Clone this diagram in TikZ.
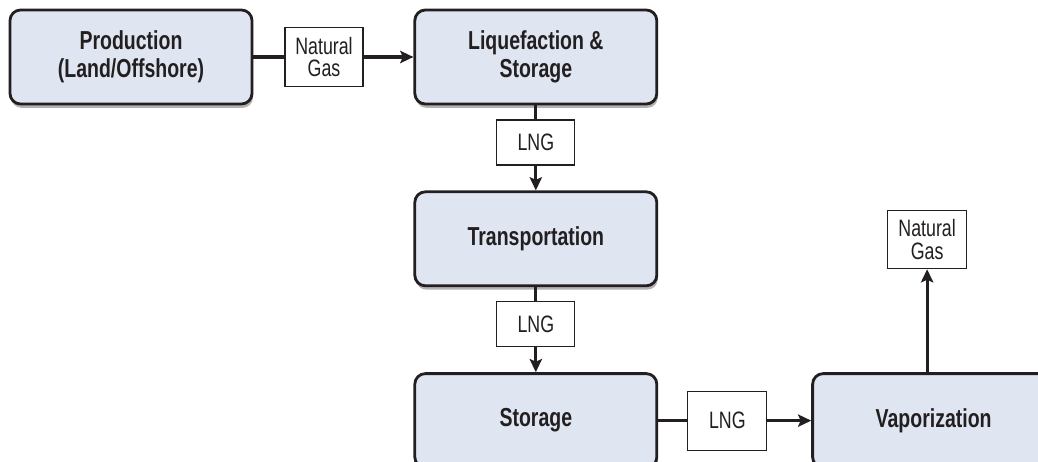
\documentclass[tikz,border=0pt]{standalone}
\usepackage{fontspec}
\setmainfont{Liberation Sans}[FakeStretch=0.75]
\usetikzlibrary{positioning, shapes, arrows.meta, shadows}
\usepackage{xcolor}
\definecolor{stagefill}{HTML}{DFE6F1}
\definecolor{inkline}{HTML}{231F20}

\begin{document}
\begin{tikzpicture}[
		font=\fontsize{14.8}{16}\selectfont\bfseries,
		text=inkline,
		stage/.style={
			draw=inkline,
			line width=1.6pt,
			rounded corners=6pt,
			fill=stagefill,
			align=center,
			minimum width=4.84cm,
			minimum height=1.88cm,
			drop shadow={shadow xshift=0.6pt, shadow yshift=-2.2pt, opacity=0.3, fill=black}
		},
		tag/.style={
			draw=inkline,
			line width=0.7pt,
			fill=white,
			align=center,
			inner sep=0pt,
			font=\fontsize{13.5}{13}\selectfont,
			minimum width=1.56cm,
			minimum height=0.9cm
		},
		flow/.style={draw=inkline, line width=1.8pt},
		feed/.style={flow, -{Stealth[length=7.5pt, width=7pt, inset=1.5pt]}}
		]
		
		\useasboundingbox (0,0) rectangle (20.76,-9.24);
		\clip (0,0) rectangle (20.76,-9.24);
		
		% --- Stages ---
		\node[stage] (prod) at (2.62,-1.14) {
			Production\\
			(Land/Offshore)
		};
		\node[stage, right=3.2cm of prod] (liq) {
			Liquefaction \&\\
			Storage
		};
		\node[stage, below=1.7cm of liq] (trans) {Transportation};
		\node[stage, below=1.7cm of trans] (stor) {Storage};
		\node[stage, right=3.06cm of stor] (vap) {Vaporization};
		
		% --- Product tags ---
		\node[tag, minimum height=1.18cm, right=0.62cm of prod] (gas1) {Natural\\Gas};
		\node[tag, below=0.28cm of liq] (lng1) {LNG};
		\node[tag, below=0.28cm of trans] (lng2) {LNG};
		\node[tag, minimum height=1.18cm, minimum width=1.58cm, right=0.58cm of stor] (lng3) {LNG};
		\node[tag, minimum height=1.16cm, minimum width=1.58cm, above=2.06cm of vap, xshift=-0.13cm] (gas2) {Natural\\Gas};
		
		% --- Flows ---
		\draw[flow] (prod) -- (gas1);
		\draw[feed] (gas1) -- (liq);
		\draw[flow] (liq) -- (lng1);
		\draw[feed] (lng1) -- (trans);
		\draw[flow] (trans) -- (lng2);
		\draw[feed] (lng2) -- (stor);
		\draw[flow] (stor) -- (lng3);
		\draw[feed] (lng3) -- (vap);
		\draw[feed] (vap.north -| gas2) -- (gas2);
		
	\end{tikzpicture}
\end{document}
